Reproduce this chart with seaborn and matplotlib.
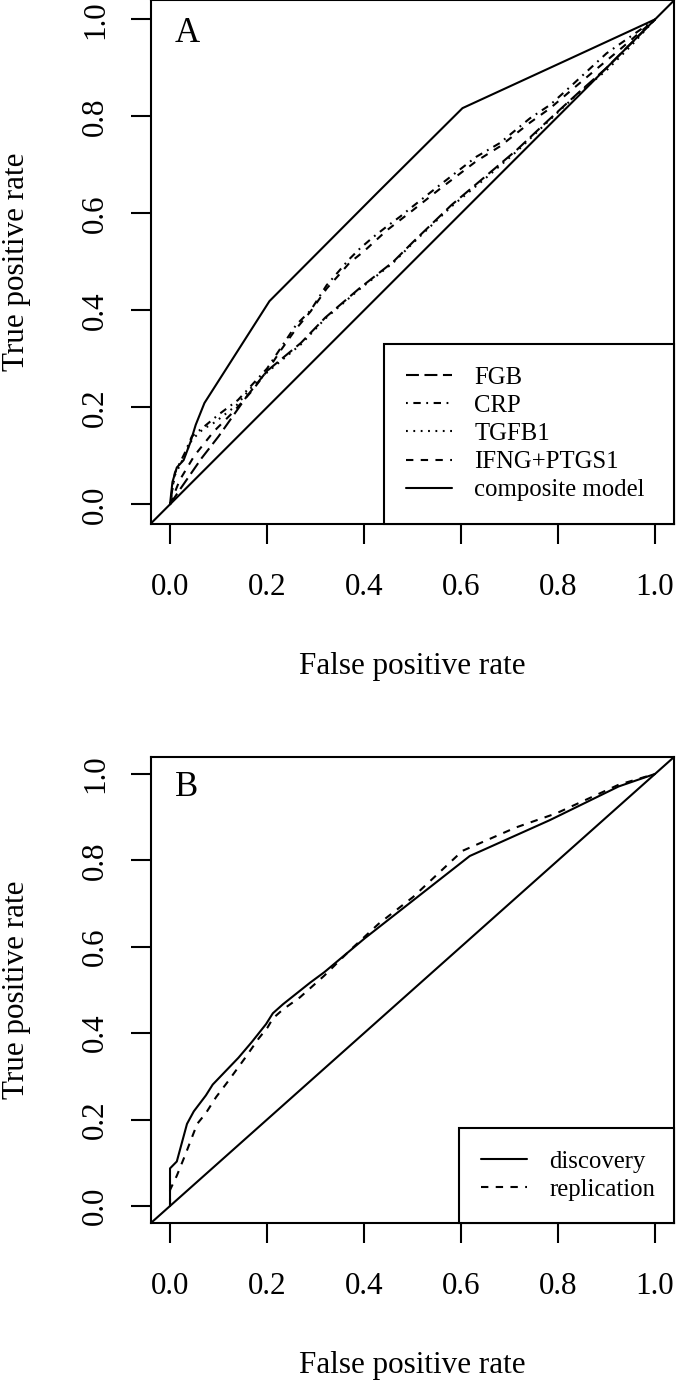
import matplotlib
matplotlib.use("Agg")
import matplotlib.pyplot as plt
import seaborn as sns

# Panel A: ROC curves of single markers and composite model
fgb_x = [0, 0.02, 0.065, 0.10, 0.124, 0.16, 0.20, 0.27, 0.32, 0.39, 0.46, 0.50, 0.58, 0.65, 0.715, 0.78, 0.84, 0.90, 0.95, 1.0]
fgb_y = [0, 0.03, 0.095, 0.14, 0.174, 0.225, 0.275, 0.333, 0.385, 0.445, 0.50, 0.54, 0.617, 0.676, 0.731, 0.792, 0.847, 0.90, 0.95, 1.0]

crp_x = [0, 0.01, 0.03, 0.045, 0.07, 0.10, 0.14, 0.20, 0.26, 0.29, 0.323, 0.344, 0.368, 0.392, 0.42, 0.447, 0.474, 0.50, 0.557, 0.632, 0.68, 0.742, 0.784, 0.825, 0.90, 0.95, 1.0]
crp_y = [0, 0.065, 0.105, 0.14, 0.16, 0.185, 0.215, 0.28, 0.37, 0.40, 0.452, 0.476, 0.504, 0.528, 0.552, 0.573, 0.593, 0.614, 0.659, 0.717, 0.745, 0.796, 0.824, 0.861, 0.93, 0.965, 1.0]

tgfb1_x = [0, 0.01, 0.03, 0.045, 0.068, 0.092, 0.137, 0.165, 0.20, 0.27, 0.32, 0.39, 0.46, 0.50, 0.58, 0.65, 0.715, 0.78, 0.84, 0.90, 0.95, 1.0]
tgfb1_y = [0, 0.06, 0.10, 0.133, 0.155, 0.169, 0.204, 0.238, 0.272, 0.33, 0.383, 0.443, 0.498, 0.538, 0.614, 0.672, 0.728, 0.79, 0.846, 0.895, 0.945, 1.0]

ifng_x = [0, 0.02, 0.05, 0.09, 0.13, 0.17, 0.20, 0.23, 0.26, 0.29, 0.323, 0.35, 0.37, 0.40, 0.447, 0.50, 0.557, 0.632, 0.68, 0.742, 0.784, 0.825, 0.87, 0.93, 1.0]
ifng_y = [0, 0.05, 0.10, 0.15, 0.19, 0.235, 0.275, 0.32, 0.362, 0.398, 0.445, 0.475, 0.498, 0.522, 0.565, 0.606, 0.651, 0.708, 0.738, 0.787, 0.817, 0.852, 0.89, 0.94, 1.0]

comp_x = [0, 0.005, 0.014, 0.028, 0.042, 0.053, 0.071, 0.205, 0.43, 0.603, 0.818, 1.0]
comp_y = [0, 0.046, 0.076, 0.091, 0.128, 0.164, 0.209, 0.419, 0.645, 0.817, 0.916, 1.0]

# Panel B: discovery vs replication
disc_x = [0, 0, 0.014, 0.035, 0.049, 0.074, 0.088, 0.141, 0.169, 0.198, 0.212, 0.233, 0.289, 0.318, 0.402, 0.618, 0.783, 0.925, 1.0]
disc_y = [0, 0.087, 0.103, 0.190, 0.219, 0.256, 0.281, 0.343, 0.380, 0.421, 0.446, 0.467, 0.517, 0.541, 0.620, 0.810, 0.893, 0.971, 1.0]

repl_x = [0, 0, 0.014, 0.032, 0.046, 0.056, 0.074, 0.095, 0.120, 0.155, 0.183, 0.201, 0.212, 0.233, 0.268, 0.318, 0.374, 0.402, 0.430, 0.501, 0.603, 0.713, 0.797, 0.925, 1.0]
repl_y = [0, 0.037, 0.070, 0.120, 0.161, 0.190, 0.215, 0.252, 0.289, 0.343, 0.388, 0.413, 0.434, 0.455, 0.483, 0.533, 0.595, 0.624, 0.653, 0.715, 0.822, 0.876, 0.909, 0.975, 1.0]

ticks = [0.0, 0.2, 0.4, 0.6, 0.8, 1.0]
tick_labels = ["0.0", "0.2", "0.4", "0.6", "0.8", "1.0"]

sns.set_style("ticks")
plt.rcParams["font.family"] = ["Liberation Serif", "DejaVu Serif"]
plt.rcParams["lines.scale_dashes"] = False
for key in ["text.color", "axes.labelcolor", "xtick.color", "ytick.color", "axes.edgecolor"]:
    plt.rcParams[key] = "black"

# R line types
LTY = {
    "solid": "-",
    "dashed": (0, (5.3, 5.3)),
    "dotted": (0, (1.3, 4.0)),
    "dotdash": (0, (1.3, 4.0, 5.3, 4.0)),
    "longdash": (0, (9.3, 4.0)),
}
LW = 1.5
FS = 22.4
LEG_FS = 17.8

fig = plt.figure(figsize=(6.76, 13.83), dpi=100)
axA = fig.add_axes([0.2228, 0.6213, 0.7749, 0.3787])
axB = fig.add_axes([0.2228, 0.1155, 0.7749, 0.3374])


def style_axes(ax, letter, letter_y):
    ax.axline((0, 0), (1, 1), color="black", lw=LW)
    ax.set_xlim(-0.04, 1.04)
    ax.set_ylim(-0.04, 1.04)
    ax.set_xticks(ticks)
    ax.set_yticks(ticks)
    ax.set_xticklabels(tick_labels)
    ax.set_yticklabels(tick_labels, rotation=90, va="center")
    ax.tick_params(axis="both", direction="out", length=14.4, width=LW,
                   colors="black", labelsize=FS)
    ax.tick_params(axis="x", pad=21)
    ax.tick_params(axis="y", pad=15)
    for sp in ax.spines.values():
        sp.set_color("black")
        sp.set_linewidth(LW)
    ax.set_xlabel("")
    ax.set_ylabel("")
    ax.text(0.01, letter_y, letter, fontsize=25, ha="left", va="baseline")


def draw(ax, x, y, lty, label):
    sns.lineplot(x=x, y=y, ax=ax, color="black", lw=LW, linestyle=LTY[lty],
                 sort=False, estimator=None, label=label)


def make_legend(ax, x0, h):
    leg = ax.legend(loc="lower left", bbox_to_anchor=(x0, 0.0, 1 - x0, h),
                    mode="expand", borderaxespad=0, fancybox=False,
                    edgecolor="black", framealpha=1, fontsize=LEG_FS,
                    handlelength=1.86, handletextpad=0.89, borderpad=0.9,
                    labelspacing=0.24)
    leg.get_frame().set_linewidth(LW)
    return leg


# Panel A
draw(axA, fgb_x, fgb_y, "longdash", "FGB")
draw(axA, crp_x, crp_y, "dotdash", "CRP")
draw(axA, tgfb1_x, tgfb1_y, "dotted", "TGFB1")
draw(axA, ifng_x, ifng_y, "dashed", "IFNG+PTGS1")
draw(axA, comp_x, comp_y, "solid", "composite model")
style_axes(axA, "A", 0.954)
make_legend(axA, 0.4456, 0.35)

# Panel B
draw(axB, disc_x, disc_y, "solid", "discovery")
draw(axB, repl_x, repl_y, "dashed", "replication")
style_axes(axB, "B", 0.948)
make_legend(axB, 0.589, 0.2)

# axis titles
W, H = 676, 1383
for top_px, bot_px in [(0, 523.8), (756.7, 1223.3)]:
    fig.text(412.5 / W, 1 - (bot_px + 150) / H, "False positive rate",
             fontsize=FS, ha="center", va="baseline")
    fig.text(17 / W, 1 - (top_px + bot_px) / 2 / H, "True positive rate",
             fontsize=FS, ha="center", va="center", rotation=90)

fig.savefig("out.png", dpi=100)
